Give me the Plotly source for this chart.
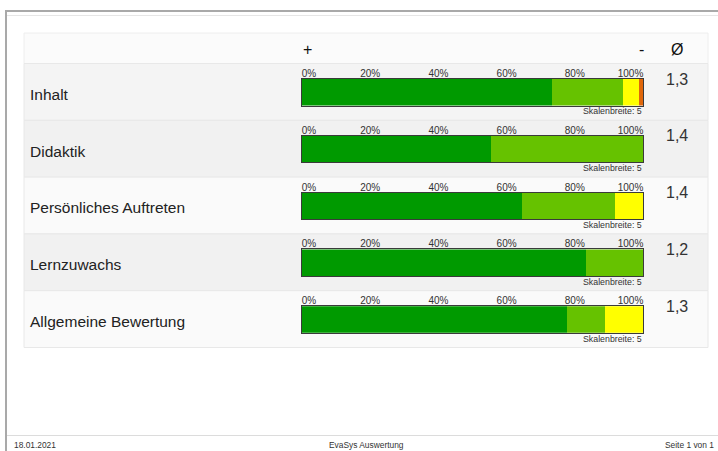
import plotly.graph_objects as go

W, H = 718, 451

labels = ["Inhalt", "Didaktik", "Persönliches Auftreten", "Lernzuwachs", "Allgemeine Bewertung"]
share_1 = [73.3, 55.4, 64.4, 83.2, 77.7]
share_2 = [20.9, 44.6, 27.5, 16.8, 11.2]
share_3 = [4.5, 0.0, 8.1, 0.0, 11.1]
share_4 = [1.3, 0.0, 0.0, 0.0, 0.0]
means = ["1,3", "1,4", "1,4", "1,2", "1,3"]
tick_vals = [0, 20, 40, 60, 80, 100]
tick_text = ["\u00a0" * 5 + "0%", "20%", "40%", "60%", "80%", "100%" + "\u00a0" * 9]

SCALE_COLORS = ["#009a00", "#66c200", "#ffff00", "#e0660a"]
FONT = "Liberation Sans, Arial, sans-serif"


def px_x(p):
    return p / W


def px_y(p):
    return 1 - p / H


BAR_L, BAR_R = 302, 643
BAR_TOP0, ROW_STEP, BAR_H = 79, 56.8, 26.5

fig = go.Figure()
layout = {}
annotations = []
shapes = []

# page frame
shapes += [
    dict(type="line", xref="paper", yref="paper", x0=px_x(5), x1=1, y0=px_y(11), y1=px_y(11),
         line=dict(color="#a9a9a9", width=2)),
    dict(type="line", xref="paper", yref="paper", x0=px_x(6), x1=px_x(6), y0=px_y(10), y1=0,
         line=dict(color="#a9a9a9", width=2)),
    dict(type="line", xref="paper", yref="paper", x0=px_x(7), x1=1, y0=px_y(15.5), y1=px_y(15.5),
         line=dict(color="#e6e6e6", width=1)),
    dict(type="line", xref="paper", yref="paper", x0=px_x(7), x1=1, y0=px_y(435.5), y1=px_y(435.5),
         line=dict(color="#dcdcdc", width=1)),
    # header row
    dict(type="rect", xref="paper", yref="paper", x0=px_x(24), x1=px_x(708), y0=px_y(33), y1=px_y(63.5),
         fillcolor="#fbfbfb", line=dict(color="#eeeeee", width=1), layer="below"),
]

row_fills = ["#f4f4f4", "#f1f1f1", "#fafafa", "#f1f1f1", "#fafafa"]

for i, lab in enumerate(labels):
    n = "" if i == 0 else str(i + 1)
    top = BAR_TOP0 + ROW_STEP * i
    shapes.append(dict(type="rect", xref="paper", yref="paper", x0=px_x(24), x1=px_x(708),
                       y0=px_y(top - 15.5), y1=px_y(top + 41.3), fillcolor=row_fills[i],
                       line=dict(color="#e8e8e8", width=1), layer="below"))
    for k, vals in enumerate([share_1, share_2, share_3, share_4]):
        fig.add_trace(go.Bar(
            x=[vals[i]], y=[lab], orientation="h",
            marker=dict(color=SCALE_COLORS[k], line=dict(width=0)),
            xaxis="x" + n, yaxis="y" + n, showlegend=False,
            hovertemplate=lab + ": %{x:.1f}%<extra></extra>",
        ))
    layout["xaxis" + n] = dict(
        domain=[px_x(BAR_L), px_x(BAR_R)], range=[0, 100], anchor="y" + n, side="top",
        tickvals=tick_vals, ticktext=tick_text, ticks="", showgrid=False, zeroline=False,
        showline=True, mirror=True, linecolor="#3a3a3a", linewidth=1, automargin=False,
        tickfont=dict(family=FONT, size=10, color="#333333"), ticklabelstandoff=-3,
        fixedrange=True,
    )
    layout["yaxis" + n] = dict(
        domain=[px_y(top + BAR_H), px_y(top)], anchor="x" + n, range=[-0.5, 0.5],
        showticklabels=False, ticks="", showgrid=False, zeroline=False, automargin=False,
        showline=True, mirror=True, linecolor="#3a3a3a", linewidth=1, fixedrange=True,
    )
    annotations.append(dict(text=lab, xref="paper", yref="y" + n + " domain", x=px_x(28), y=0.5,
                            xanchor="left", yanchor="middle", yshift=-2, showarrow=False,
                            font=dict(family=FONT, size=15.5, color="#222222")))
    annotations.append(dict(text=means[i], xref="paper", yref="y" + n + " domain", x=px_x(677), y=1,
                            xanchor="center", yanchor="middle", showarrow=False,
                            font=dict(family=FONT, size=16, color="#333333")))
    annotations.append(dict(text="Skalenbreite: 5", xref="x" + n + " domain", yref="y" + n + " domain",
                            x=1, y=0, xanchor="right", yanchor="top", yshift=0, showarrow=False,
                            borderpad=0, font=dict(family=FONT, size=8.8, color="#333333")))

# header symbols
for txt, xp in [("+", 307), ("-", 641), ("Ø", 677)]:
    annotations.append(dict(text=txt, xref="paper", yref="paper", x=px_x(xp), y=px_y(50),
                            xanchor="center", yanchor="middle", showarrow=False,
                            font=dict(family=FONT, size=16, color="#111111")))

# footer
for txt, xp, anchor in [("18.01.2021", 12, "left"), ("EvaSys Auswertung", 366, "center"),
                        ("Seite 1 von 1", 716, "right")]:
    annotations.append(dict(text=txt, xref="paper", yref="paper", x=px_x(xp), y=px_y(445),
                            xanchor=anchor, yanchor="middle", showarrow=False,
                            font=dict(family=FONT, size=8.4, color="#333333")))

fig.update_layout(
    width=W, height=H, margin=dict(l=0, r=0, t=0, b=0, pad=0, autoexpand=False),
    paper_bgcolor="white", plot_bgcolor="rgba(0,0,0,0)",
    barmode="stack", bargap=0, showlegend=False,
    shapes=shapes, annotations=annotations, **layout,
)

# page has a default body margin; drop it so the figure sits at the window corner
fig.write_html("out.html", config={"displayModeBar": False},
               post_script="document.body.style.margin='0';document.body.style.overflow='hidden';")
